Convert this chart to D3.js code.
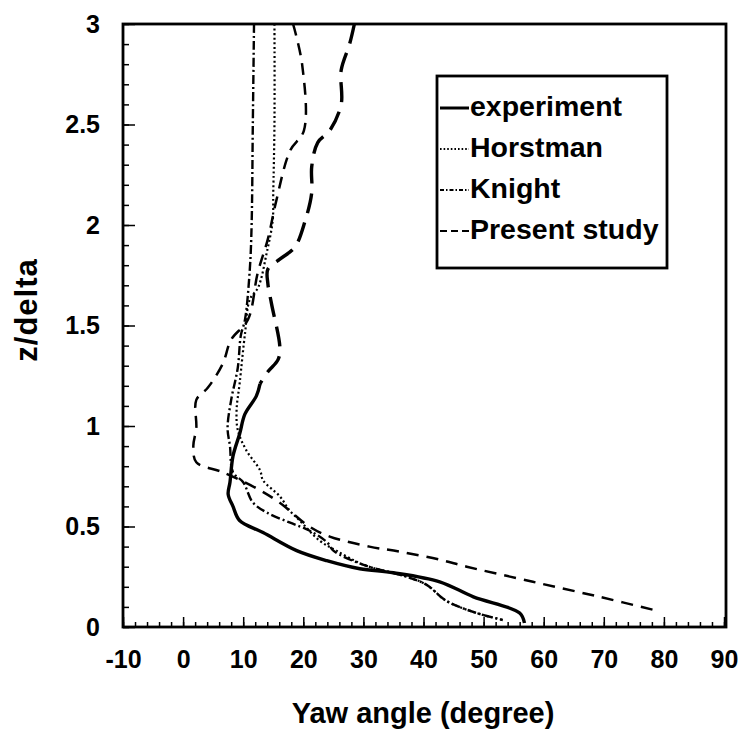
<!DOCTYPE html>
<html>
<head>
<meta charset="utf-8">
<script src="https://cdn.jsdelivr.net/npm/d3@7"></script>
<style>
  body { margin: 0; background: #fff; }
  svg text { font-family: "Liberation Sans", Arial, sans-serif; font-weight: bold; fill: #000; }
</style>
</head>
<body>
<svg width="743" height="734"></svg>
<script>
// yaw angle (degree) vs z/delta
var expYaw = [12.8, 12.2, 10.3, 9.4, 8.3, 7.8, 7.5, 8.3, 9.4, 13.3, 18.9, 23.9, 29.4, 35, 42.7, 48.3, 56, 56.8];
var expZ   = [1.21, 1.15, 1.06, 0.96, 0.85, 0.72, 0.66, 0.60, 0.53, 0.47, 0.38, 0.33, 0.29, 0.27, 0.225, 0.15, 0.07, 0.02];

var horstYaw = [15.2, 15.2, 15.0, 14.9, 13.9, 12.5, 11.1, 10.3, 9.4, 8.9, 9.1, 10.5, 12.8, 13.3, 16.1, 17.7, 19.4, 22.7, 25.5, 30, 37.2, 40.5, 43.8, 48.8, 53.2];
var horstZ   = [3.0, 2.5, 2.16, 2.02, 1.86, 1.69, 1.63, 1.46, 1.21, 1.08, 0.98, 0.88, 0.78, 0.73, 0.65, 0.58, 0.53, 0.43, 0.38, 0.31, 0.25, 0.21, 0.13, 0.07, 0.035];

var knightYaw = [11.8, 11.6, 11.4, 11.1, 10.3, 9.6, 9.1, 8.0, 7.4, 7.8, 8.3, 10, 11.6, 13.9, 17.7, 21, 24, 25, 29.9, 37.2, 40.5, 43.8, 48.8, 53.2];
var knightZ   = [3.0, 2.5, 2.0, 1.78, 1.53, 1.45, 1.29, 1.13, 0.99, 0.90, 0.77, 0.72, 0.62, 0.57, 0.52, 0.48, 0.42, 0.38, 0.31, 0.25, 0.21, 0.13, 0.07, 0.035];

var presentYaw = [18.3, 19.8, 20.1, 17.8, 15.5, 14.1, 12.4, 10.8, 8.0, 6.6, 4.1, 2.2, 2.2, 1.7, 2.2, 6.6, 12.2, 16, 21, 24.4, 31, 36, 42.7, 47.2, 58.2, 69.3, 79];
var presentZ   = [3.0, 2.8, 2.47, 2.37, 2.12, 1.93, 1.76, 1.53, 1.43, 1.31, 1.19, 1.13, 0.99, 0.90, 0.82, 0.77, 0.69, 0.62, 0.50, 0.45, 0.40, 0.375, 0.335, 0.30, 0.225, 0.15, 0.08];

// heavy long-dash curve in the upper part (not in the legend)
var upperYaw = [28.5, 27.7, 26.3, 26.3, 24.4, 22.4, 21.4, 21.4, 20.3, 18.6, 16.1, 14.1, 14.1, 14.7, 16.1, 15.8, 14.1, 12.8];
var upperZ   = [3.0, 2.9, 2.77, 2.6, 2.47, 2.41, 2.29, 2.16, 2.02, 1.89, 1.83, 1.78, 1.71, 1.61, 1.39, 1.33, 1.27, 1.21];

var xMajor = [-10, 0, 10, 20, 30, 40, 50, 60, 70, 80, 90];
var yMajor = [0, 0.5, 1, 1.5, 2, 2.5, 3];
var legendNames = ["experiment", "Horstman", "Knight", "Present study"];

var svg = d3.select("svg");
var plotL = 123, plotR = 724, plotT = 24, plotB = 627;

var x = d3.scaleLinear().domain([-10, 90]).range([plotL, plotR]);
var y = d3.scaleLinear().domain([0, 3]).range([plotB, plotT]);

// minor ticks
svg.append("g")
    .attr("transform", "translate(0," + plotB + ")")
    .call(d3.axisBottom(x).tickValues(d3.range(-10, 91, 2)).tickSize(-5).tickFormat(""))
    .call(g => g.select(".domain").remove());
svg.append("g")
    .attr("transform", "translate(" + plotL + ",0)")
    .call(d3.axisLeft(y).tickValues(d3.range(0, 31).map(d => d / 10)).tickSize(-6).tickFormat(""))
    .call(g => g.select(".domain").remove());

// major ticks + labels
var xa = svg.append("g")
    .attr("transform", "translate(0," + plotB + ")")
    .call(d3.axisBottom(x).tickValues(xMajor).tickSize(-10).tickPadding(23).tickFormat(d => String(d)));
xa.select(".domain").remove();
xa.selectAll("text").style("font-size", "25px").style("font-family", null);

var ya = svg.append("g")
    .attr("transform", "translate(" + plotL + ",0)")
    .call(d3.axisLeft(y).tickValues(yMajor).tickSize(-12).tickPadding(23).tickFormat(d => String(d)));
ya.select(".domain").remove();
ya.selectAll("text").style("font-size", "25px").style("font-family", null);

svg.selectAll(".tick line").attr("stroke", "#000").attr("stroke-width", 1.5);

// frame
svg.append("rect")
    .attr("x", plotL).attr("y", plotT)
    .attr("width", plotR - plotL + 2).attr("height", plotB - plotT)
    .attr("fill", "none").attr("stroke", "#000").attr("stroke-width", 2.8);

// curves
var line = d3.line().x(d => x(d[0])).y(d => y(d[1])).curve(d3.curveCatmullRom.alpha(0.5));
function pairs(a, b) { return a.map((v, i) => [v, b[i]]); }

var curves = [
    { pts: pairs(upperYaw, upperZ), dash: "20,10", w: 3.4 },
    { pts: pairs(presentYaw, presentZ), dash: "12,8", w: 2.5 },
    { pts: pairs(knightYaw, knightZ), dash: "9,3,2,3", w: 2.4 },
    { pts: pairs(horstYaw, horstZ), dash: "2,2.6", w: 2.2 },
    { pts: pairs(expYaw, expZ), dash: null, w: 3.4 }
];

svg.selectAll(".curve")
    .data(curves)
    .enter().append("path")
    .attr("class", "curve")
    .attr("d", d => line(d.pts))
    .attr("fill", "none")
    .attr("stroke", "#000")
    .attr("stroke-width", d => d.w)
    .attr("stroke-dasharray", d => d.dash)
    .attr("stroke-linejoin", "round");

// legend
var legendStyles = [
    { dash: null, w: 3 },
    { dash: "1.6,2", w: 1.8 },
    { dash: "4,2,1.5,2", w: 2 },
    { dash: "7,4", w: 2.2 }
];
svg.append("rect")
    .attr("x", 437).attr("y", 76)
    .attr("width", 230).attr("height", 192)
    .attr("fill", "#fff").attr("stroke", "#000").attr("stroke-width", 2.8);

var lg = svg.selectAll(".leg")
    .data(legendNames)
    .enter().append("g")
    .attr("class", "leg")
    .attr("transform", (d, i) => "translate(440," + (106 + i * 41) + ")");
lg.append("line")
    .attr("x1", 0).attr("x2", 29).attr("y1", 2).attr("y2", 2)
    .attr("stroke", "#000")
    .attr("stroke-width", (d, i) => legendStyles[i].w)
    .attr("stroke-dasharray", (d, i) => legendStyles[i].dash);
lg.append("text")
    .attr("x", 30).attr("dy", "0.35em")
    .style("font-size", "28.5px")
    .text(d => d);

// axis titles
svg.append("text")
    .attr("x", 423).attr("y", 723)
    .attr("text-anchor", "middle")
    .style("font-size", "29px")
    .text("Yaw angle (degree)");

svg.append("text")
    .attr("transform", "translate(37,310) rotate(-90)")
    .attr("text-anchor", "middle")
    .style("font-size", "31px")
    .style("letter-spacing", "1px")
    .text("z/delta");
</script>
</body>
</html>
